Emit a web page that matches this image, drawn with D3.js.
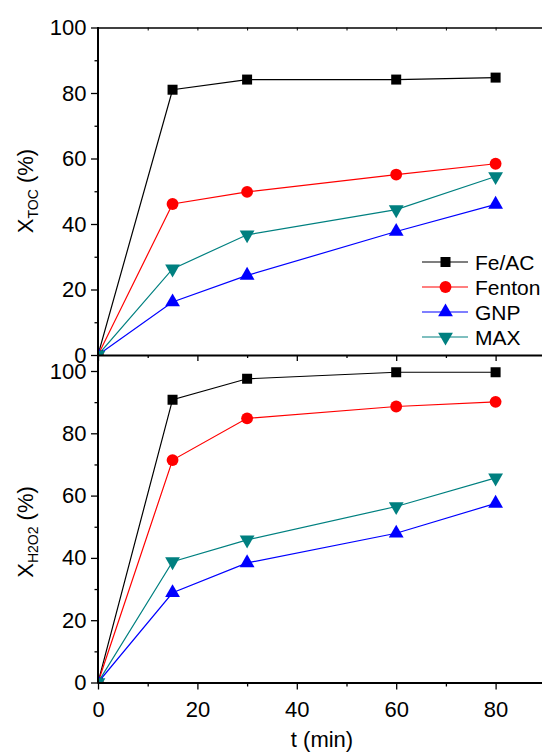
<!DOCTYPE html>
<html>
<head>
<meta charset="utf-8">
<script src="https://cdn.jsdelivr.net/npm/d3@7"></script>
<style>
  body { margin: 0; background: #fff; }
  svg { display: block; font-family: "Liberation Sans", Arial, sans-serif; }
  .axis path, .axis line { stroke: #000; }
  .axis text { font-size: 22px; fill: #000; }
</style>
</head>
<body>
<div id="chart"></div>
<script>
// data
var times = [0, 15, 30, 60, 80];
var seriesNames = ["Fe/AC", "Fenton", "GNP", "MAX"];
var colors = ["#000000", "#ff0000", "#0000ff", "#008080"];
var symbols = [d3.symbolSquare, d3.symbolCircle, d3.symbolTriangle, d3.symbolTriangle];

// X_TOC (%)
var tocFeAC   = [0, 81.0, 84.1, 84.1, 84.7];
var tocFenton = [0, 46.1, 49.8, 55.1, 58.4];
var tocGNP    = [0, 16.2, 24.3, 37.7, 46.0];
var tocMAX    = [0, 26.3, 36.7, 44.4, 54.5];

// X_H2O2 (%)
var h2o2FeAC   = [0, 90.8, 97.5, 99.6, 99.6];
var h2o2Fenton = [0, 71.4, 84.8, 88.6, 90.1];
var h2o2GNP    = [0, 28.8, 38.4, 47.9, 57.5];
var h2o2MAX    = [0, 38.8, 45.8, 56.5, 65.7];

var majorY = [0, 20, 40, 60, 80, 100];
var minorY = [10, 30, 50, 70, 90];
var majorX = [0, 20, 40, 60, 80];
var minorX = [10, 30, 50, 70, 90];

var W = 542, H = 753;
var svg = d3.select("#chart").append("svg")
    .attr("width", W)
    .attr("height", H);

var x = d3.scaleLinear().domain([0, 90]).range([98, 545.3]);
var yTop = d3.scaleLinear().domain([0, 100]).range([355, 27.5]);
var yBot = d3.scaleLinear().domain([0, 100]).range([682.5, 371]);

svg.append("defs").append("clipPath").attr("id", "clipTop")
   .append("rect").attr("x", 98).attr("y", 0).attr("width", W).attr("height", 355);
svg.select("defs").append("clipPath").attr("id", "clipBot")
   .append("rect").attr("x", 98).attr("y", 356).attr("width", W).attr("height", 682.5 - 356);

function drawPanel(y, data, clipId) {
  var g = svg.append("g").attr("clip-path", "url(#" + clipId + ")");
  data.forEach(function(vals, i) {
    var pts = times.map(function(t, j) { return [t, vals[j]]; });
    g.append("path")
     .datum(pts)
     .attr("fill", "none")
     .attr("stroke", colors[i])
     .attr("stroke-width", 1.2)
     .attr("d", d3.line().x(function(d) { return x(d[0]); }).y(function(d) { return y(d[1]); }));
    g.selectAll(".m" + i)
     .data(pts)
     .enter().append("path")
     .attr("class", "m" + i)
     .attr("fill", colors[i])
     .attr("d", d3.symbol().type(symbols[i]).size(i == 1 ? 110 : (i == 0 ? 100 : 95)))
     .attr("transform", function(d) {
        return "translate(" + x(d[0]) + "," + y(d[1]) + ")" + (i == 3 ? " rotate(180)" : "");
     });
  });
}

drawPanel(yTop, [tocFeAC, tocFenton, tocGNP, tocMAX], "clipTop");
drawPanel(yBot, [h2o2FeAC, h2o2Fenton, h2o2GNP, h2o2MAX], "clipBot");

// axes
function yAxes(y) {
  svg.append("g").attr("class", "axis")
     .attr("transform", "translate(98,0)")
     .call(d3.axisLeft(y).tickValues(minorY).tickSize(3.5).tickFormat(""))
     .call(function(a) { a.select(".domain").remove(); a.selectAll("line").attr("stroke-width", 1.3); });
  svg.append("g").attr("class", "axis")
     .attr("transform", "translate(98,0)")
     .call(d3.axisLeft(y).tickValues(majorY).tickSize(7).tickPadding(4.5).tickSizeOuter(0))
     .call(function(a) { a.select(".domain").remove(); a.selectAll("line").attr("stroke-width", 1.3); });
}
yAxes(yTop);
yAxes(yBot);

// left spine, continuous through both panels
svg.append("line").attr("x1", 98).attr("x2", 98).attr("y1", 27).attr("y2", 683.5)
   .attr("stroke", "#000").attr("stroke-width", 2);

// top border with small inward ticks
svg.append("g").attr("class", "axis")
   .attr("transform", "translate(0,27.5)")
   .call(d3.axisTop(x).tickValues(majorX.concat(minorX)).tickSize(-3).tickFormat("").tickSizeOuter(0))
   .call(function(a) { a.select(".domain").attr("stroke-width", 1.5); });

// top panel bottom axis (no labels)
svg.append("g").attr("class", "axis")
   .attr("transform", "translate(0,355)")
   .call(d3.axisBottom(x).tickValues(minorX).tickSize(3).tickFormat("").tickSizeOuter(0))
   .call(function(a) { a.select(".domain").attr("stroke-width", 2.2); a.selectAll("line").attr("stroke-width", 1.3); });
svg.append("g").attr("class", "axis")
   .attr("transform", "translate(0,355)")
   .call(d3.axisBottom(x).tickValues(majorX).tickSize(6).tickFormat("").tickSizeOuter(0))
   .call(function(a) { a.select(".domain").remove(); a.selectAll("line").attr("stroke-width", 1.3); });

// bottom axis
svg.append("g").attr("class", "axis")
   .attr("transform", "translate(0,682.5)")
   .call(d3.axisBottom(x).tickValues(minorX).tickSize(4).tickFormat("").tickSizeOuter(0))
   .call(function(a) { a.select(".domain").attr("stroke-width", 2); a.selectAll("line").attr("stroke-width", 1.3); });
svg.append("g").attr("class", "axis")
   .attr("transform", "translate(0,682.5)")
   .call(d3.axisBottom(x).tickValues(majorX).tickSize(7).tickPadding(12).tickSizeOuter(0))
   .call(function(a) { a.select(".domain").remove(); a.selectAll("line").attr("stroke-width", 1.3); });

// axis titles
svg.append("text")
   .attr("x", 322).attr("y", 747)
   .attr("text-anchor", "middle")
   .attr("font-size", 22)
   .text("t (min)");

function yTitle(cy, sub) {
  var t = svg.append("text")
     .attr("transform", "translate(33," + cy + ") rotate(-90)")
     .attr("text-anchor", "middle")
     .attr("font-size", 22);
  t.append("tspan").text("X");
  t.append("tspan").attr("font-size", 14).attr("dy", 5).text(sub);
  t.append("tspan").attr("dy", -5).text(" (%)");
}
yTitle(191, "TOC");
yTitle(532, "H2O2");

// legend
var legend = svg.append("g");
seriesNames.forEach(function(name, i) {
  var ly = 262 + i * 25;
  legend.append("line")
     .attr("x1", 422).attr("x2", 468).attr("y1", ly).attr("y2", ly)
     .attr("stroke", colors[i]).attr("stroke-width", 1.2);
  legend.append("path")
     .attr("fill", colors[i])
     .attr("d", d3.symbol().type(symbols[i]).size(i == 1 ? 110 : (i == 0 ? 100 : 95)))
     .attr("transform", "translate(445.5," + ly + ")" + (i == 3 ? " rotate(180)" : ""));
  legend.append("text")
     .attr("x", 475).attr("y", ly + 7.5)
     .attr("font-size", 21)
     .text(name);
});
</script>
</body>
</html>
